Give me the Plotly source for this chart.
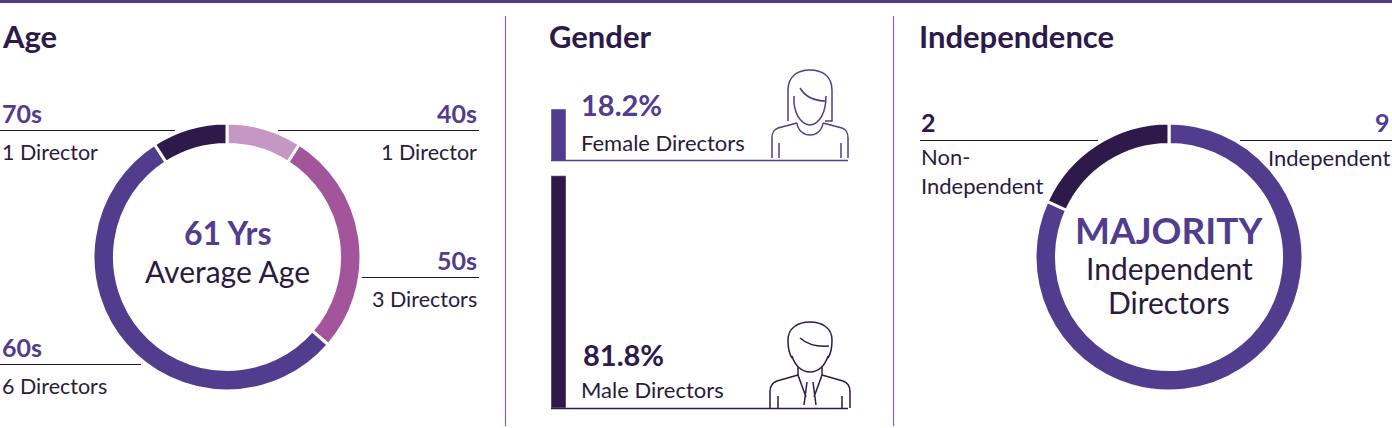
import plotly.graph_objects as go

# colours
DARK = "#2D1A4B"
PURPLE = "#523C8E"
MAUVE = "#A3559B"
LIGHT = "#C797C4"
TEXT = "#2A1B3D"
FONT = "Lato"

W, H = 1392, 428

# ---- data ----
age_groups = ["40s", "50s", "60s", "70s"]
age_counts = [1, 3, 6, 1]
age_colors = [LIGHT, MAUVE, PURPLE, DARK]
avg_age = 61

gender_labels = ["Female Directors", "Male Directors"]
gender_pct = [18.2, 81.8]
gender_colors = [PURPLE, DARK]

indep_labels = ["Independent", "Non-\nIndependent"]
indep_counts = [9, 2]
indep_colors = [PURPLE, DARK]


def director_text(n):
    return f"{n} Director" if n == 1 else f"{n} Directors"


def dom(cx, cy, r):
    # pixel centre/radius -> pie domain
    return dict(x=[(cx - r) / W, (cx + r) / W], y=[(H - cy - r) / H, (H - cy + r) / H])


fig = go.Figure()

# Age donut
fig.add_trace(go.Pie(
    labels=age_groups, values=age_counts, sort=False, direction="clockwise",
    hole=0.84, textinfo="none", hoverinfo="label+value",
    marker=dict(colors=age_colors, line=dict(color="white", width=3)),
    domain=dom(227, 257, 134), showlegend=False,
))

# Independence donut
fig.add_trace(go.Pie(
    labels=["Independent", "Non-Independent"], values=indep_counts, sort=False,
    direction="clockwise", hole=0.84, textinfo="none", hoverinfo="label+value",
    marker=dict(colors=indep_colors, line=dict(color="white", width=3)),
    domain=dom(1169, 257, 134), showlegend=False,
))

# Gender bars, stacked upwards with a small gap
gap = 5.3
fig.add_trace(go.Bar(
    x=[0], y=[gender_pct[1]], base=[0], width=1, marker_color=gender_colors[1],
    xaxis="x2", yaxis="y2", showlegend=False, hoverinfo="skip",
))
fig.add_trace(go.Bar(
    x=[0], y=[gender_pct[0]], base=[gender_pct[1] + gap], width=1,
    marker_color=gender_colors[0], xaxis="x2", yaxis="y2", showlegend=False,
    hoverinfo="skip",
))

# pixel overlay for text and decoration
fig.add_trace(go.Scatter(x=[], y=[], xaxis="x3", yaxis="y3", showlegend=False))


def txt(x, y, s, size, color=TEXT, bold=False, anchor="left"):
    fig.add_annotation(
        x=x, y=y, xref="x3", yref="y3", text=s, showarrow=False,
        xanchor=anchor, yanchor="middle", align=anchor,
        font=dict(family=FONT, size=size, color=color, weight=700 if bold else 400),
    )


def hline(x0, x1, y, color="#231A2E", width=1):
    # half-pixel offset keeps 1px rules crisp
    fig.add_shape(type="line", x0=x0, x1=x1, y0=y + 0.5, y1=y + 0.5, xref="x3", yref="y3",
                  line=dict(color=color, width=width))


# top rule and dividers
fig.add_shape(type="line", x0=0, x1=W, y0=1.5, y1=1.5, xref="x3", yref="y3",
              line=dict(color=PURPLE, width=3))
for xd in [505.5, 893.5]:
    fig.add_shape(type="line", x0=xd, x1=xd, y0=16, y1=426, xref="x3", yref="y3",
                  line=dict(color="#87679A", width=1.2))

# titles
txt(0, 36, "Age", 31, DARK, True)
txt(547, 36, "Gender", 31, DARK, True)
txt(917, 36, "Independence", 31, DARK, True)

# Age labels
age_pos = {"40s": (479, 113, "right", 278), "50s": (479, 260, "right", 362),
           "60s": (0, 347, "left", 141), "70s": (0, 113, "left", 175)}
for g, n in zip(age_groups, age_counts):
    x, y, a, xe = age_pos[g]
    txt(x, y, g, 25, PURPLE, True, a)
    hline(min(x, xe), max(x, xe), y + 17)
    txt(x, y + 39, director_text(n), 21.5, TEXT, False, a)

txt(227, 232, f"{avg_age} Yrs", 32, PURPLE, True, "center")
txt(227, 271, "Average Age", 30, TEXT, False, "center")

# Gender labels
txt(579, 104, f"{gender_pct[0]}%", 29, PURPLE, True)
txt(579, 142, gender_labels[0], 22)
hline(551, 848, 160, PURPLE, 1.3)
txt(581, 354, f"{gender_pct[1]}%", 29, DARK, True)
txt(579, 389, gender_labels[1], 22)
hline(551, 848, 408, DARK, 1.3)

# female icon
female = ("M788,121 L788,90 C788,76 798,70 810,70 C822,70 832,76 832,90 L832,121 L825,121 "
          "M800,88 C806,98 815,101 826,101 "
          "M794,96 C793,112 800,124 810,125 C820,124 826,112 826,96 "
          "M797,123 C798,131 804,135 810,135 C816,135 822,131 823,123 "
          "M797,123 L778,128 C773,130 772,133 772,138 L772,158 "
          "M823,123 L842,128 C847,130 848,133 848,138 L848,158 "
          "M779,143 L779,158 M841,143 L841,158")
fig.add_shape(type="path", path=female, xref="x3", yref="y3",
              line=dict(color=PURPLE, width=1.5))

# male icon
male = ("M792,358 C788,352 788,346 788,340 C788,328 798,322 810,322 C822,322 832,328 832,340 "
        "C832,346 832,352 828,358 "
        "M800,338 C808,345 818,347 829,346 "
        "M792,356 C795,366 802,372 810,372 C818,372 825,366 828,356 "
        "M798,367 L798,375 L806,397 M822,367 L822,375 L814,397 "
        "M807,382 L804,405 M813,382 L816,405 "
        "M798,375 L777,381 C772,383 770,386 770,391 L770,408 "
        "M822,375 L843,381 C848,383 850,386 850,391 L850,408 "
        "M778,396 L778,408 M842,396 L842,408")
fig.add_shape(type="path", path=male, xref="x3", yref="y3",
              line=dict(color=DARK, width=1.5))

# Independence labels
txt(919, 122, str(indep_counts[1]), 25, DARK, True)
hline(920, 1098, 140)
txt(919, 171, indep_labels[1].replace("\n", "<br>"), 22)
txt(1392, 122, str(indep_counts[0]), 25, PURPLE, True, "right")
hline(1240, 1392, 140)
txt(1392, 157, indep_labels[0], 22, TEXT, False, "right")

txt(1169, 229, "MAJORITY", 37, PURPLE, True, "center")
txt(1169, 268, "Independent", 30, TEXT, False, "center")
txt(1169, 302, "Directors", 30, TEXT, False, "center")

axis_off = dict(visible=False, fixedrange=True)
fig.update_layout(
    width=W, height=H, margin=dict(l=0, r=0, t=0, b=0),
    paper_bgcolor="white", plot_bgcolor="rgba(0,0,0,0)",
    barmode="overlay",
    xaxis2=dict(domain=[551 / W, 566 / W], range=[-0.5, 0.5], anchor="y2", **axis_off),
    yaxis2=dict(domain=[20 / H, 319 / H], range=[0, sum(gender_pct) + gap], anchor="x2", **axis_off),
    xaxis3=dict(domain=[0, 1], range=[0, W], anchor="y3", **axis_off),
    yaxis3=dict(domain=[0, 1], range=[H, 0], anchor="x3", **axis_off),
)

# the page body has a default margin; drop it so the figure fills the window
fig.write_html("out.html", config={"displayModeBar": False},
               post_script="document.body.style.margin='0';")
